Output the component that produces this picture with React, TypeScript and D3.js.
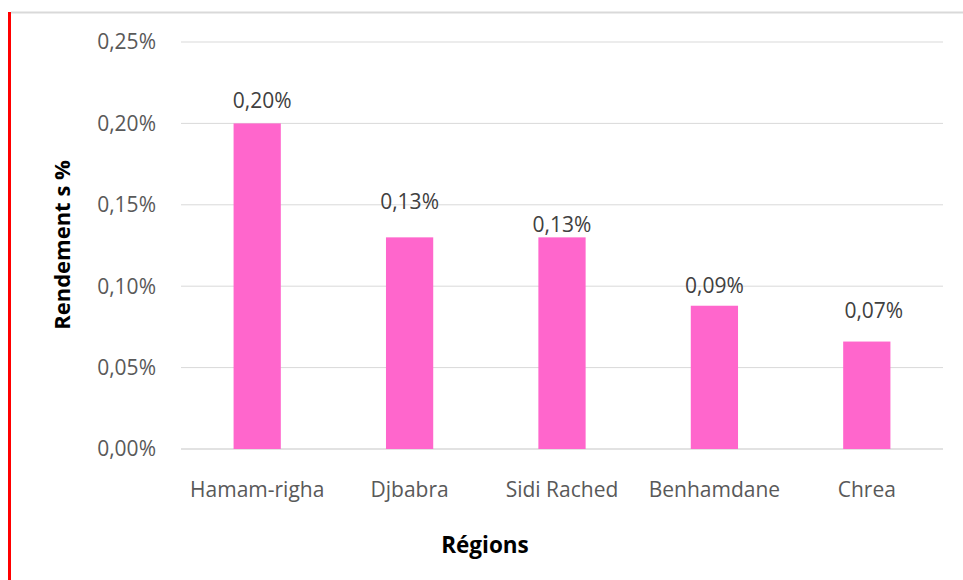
import React from "react";
import * as d3 from "d3";

const categories = ["Hamam-righa", "Djbabra", "Sidi Rached", "Benhamdane", "Chrea"];
const values = [0.2, 0.13, 0.13, 0.088, 0.066];
const valueLabels = ["0,20%", "0,13%", "0,13%", "0,09%", "0,07%"];
const yTicks = [0, 0.05, 0.1, 0.15, 0.2, 0.25];

const W = 963;
const H = 580;
const font = "'Open Sans', 'Liberation Sans', sans-serif";
// manual data-label placement (offset from bar top centre), as in the source chart
const labelShift: [number, number][] = [[5, 22.5], [0, 36], [0, 12.5], [0, 20], [7, 31]];

export default function App() {
  const x = d3.scaleBand<string>().domain(categories).range([181, 943]).paddingInner(0.69).paddingOuter(0.345);
  const y = d3.scaleLinear().domain([0, 0.25]).range([449, 42]);
  const fmt = (v: number) => v.toFixed(2).replace(".", ",") + "%";
  return (
    <svg width={W} height={H} style={{ position: "absolute", left: 0, top: 0 }}>
      <rect x={0} y={0} width={W} height={H} fill="#fff" />
      <line x1={11} x2={W} y1={12.5} y2={12.5} stroke="#d9d9d9" strokeWidth={2} />
      <line x1={9.5} x2={9.5} y1={12} y2={H} stroke="#ff0000" strokeWidth={3} />
      {yTicks.map((t) => (
        <g key={t}>
          <line x1={181} x2={943} y1={y(t)} y2={y(t)} stroke="#d9d9d9" strokeWidth={t === 0 ? 1.5 : 1} />
          <text x={156} y={y(t)} dy="0.35em" textAnchor="end" fontFamily={font} fontSize={21} fill="#595959">
            {fmt(t)}
          </text>
        </g>
      ))}
      {categories.map((c, i) => (
        <g key={c}>
          <rect x={x(c)} y={y(values[i])} width={x.bandwidth()} height={y(0) - y(values[i])} fill="#ff66cc" />
        </g>
      ))}
      {categories.map((c, i) => (
        <g key={c + "-t"}>
          <text x={(x(c) as number) + x.bandwidth() / 2 + labelShift[i][0]} y={y(values[i]) - labelShift[i][1]} dy="0.35em" textAnchor="middle" fontFamily={font} fontSize={21} fill="#404040">
            {valueLabels[i]}
          </text>
          <text x={(x(c) as number) + x.bandwidth() / 2} y={490} dy="0.35em" textAnchor="middle" fontFamily={font} fontSize={21} fill="#595959">
            {c}
          </text>
        </g>
      ))}
      <text transform={`translate(62,245) rotate(-90)`} dy="0.35em" textAnchor="middle" fontFamily={font} fontSize={22} fontWeight="bold" fill="#000">
        Rendement s %
      </text>
      <text x={485} y={545} dy="0.35em" textAnchor="middle" fontFamily={font} fontSize={22.5} fontWeight="bold" fill="#000">
        Régions
      </text>
    </svg>
  );
}
